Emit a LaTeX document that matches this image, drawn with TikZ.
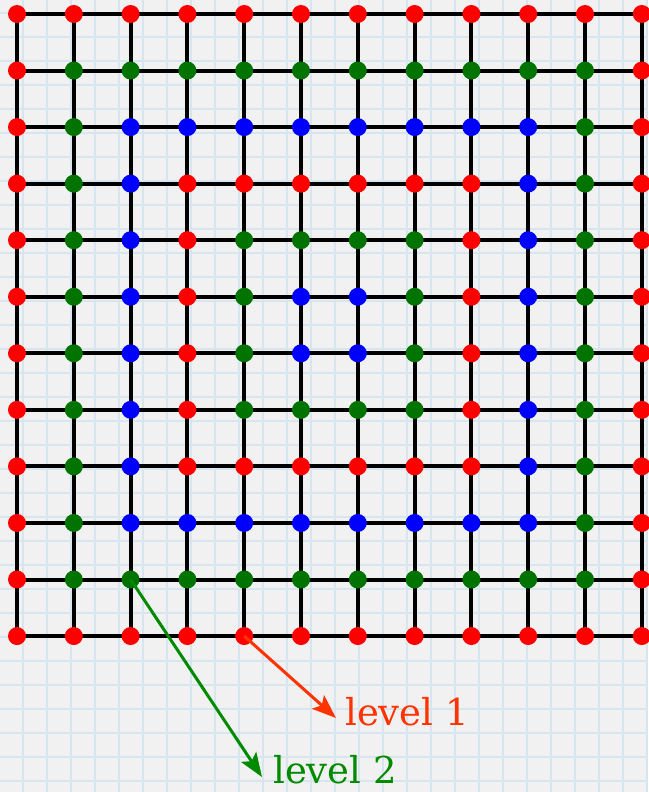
\documentclass[tikz,border=0pt]{standalone}
\usepackage{fontspec}
\setmainfont{DejaVu Serif}
\usetikzlibrary{arrows.meta}
\definecolor{paperbg}{HTML}{F1F1F1}
\definecolor{paperline}{HTML}{D6E5EE}
\definecolor{lv0}{HTML}{FF0000}
\definecolor{lv1}{HTML}{007300}
\definecolor{lv2}{HTML}{0000FF}
\definecolor{arrowred}{HTML}{FF3300}
\definecolor{arrowgreen}{HTML}{008A00}
\pgfdeclarelayer{paper}
\pgfdeclarelayer{lines}
\pgfsetlayers{paper,lines,main}
\tikzset{
  dot/.style={circle,inner sep=0pt,minimum size=18pt},
  gridline/.style={line width=4pt,black},
  callout/.style={line width=3pt,-{Stealth[length=24pt,width=18pt,inset=5pt]}},
  lbl/.style={anchor=base west,inner sep=0pt,font=\fontsize{37}{42}\selectfont}
}
\begin{document}
\begin{tikzpicture}[x=1pt,y=1pt]
\useasboundingbox (0,0) rectangle (648,-792);
\begin{pgfonlayer}{paper}
  \fill[paperbg] (0,0) rectangle (648,-792);
  \foreach \k in {1,...,27} \draw[paperline,line width=1.2pt] (24*\k-1,0) -- (24*\k-1,-792);
  \foreach \k in {0,...,32} \draw[paperline,line width=1.2pt] (0,-24*\k-13) -- (648,-24*\k-13);
\end{pgfonlayer}
\foreach \r in {0,...,11}{
  \foreach \c in {0,...,11}{
    \pgfmathtruncatemacro\ring{min(min(\r,\c),min(11-\r,11-\c))}
    \pgfmathtruncatemacro\lv{mod(\ring,3)}
    \node[dot,fill=lv\lv] (n-\r-\c) at ({17+56.8*\c},{-(14+56.55*\r)}) {};
  }
}
\begin{pgfonlayer}{lines}
  \foreach \r in {0,...,11}{
    \draw[gridline] (n-\r-0.center) -- (n-\r-11.center);
    \draw[gridline] (n-0-\r.center) -- (n-11-\r.center);
  }
\end{pgfonlayer}
\coordinate (t1) at (336,-718);
\coordinate (t2) at (262,-777);
\draw[callout,arrowred] (n-11-4.center) -- (t1);
\draw[callout,arrowgreen] (n-10-2.center) -- (t2);
\node[lbl,text=arrowred] (l1) at (345,-725) {level 1};
\node[lbl,text=arrowgreen] (l2) at (273,-783) {level 2};
\end{tikzpicture}
\end{document}
